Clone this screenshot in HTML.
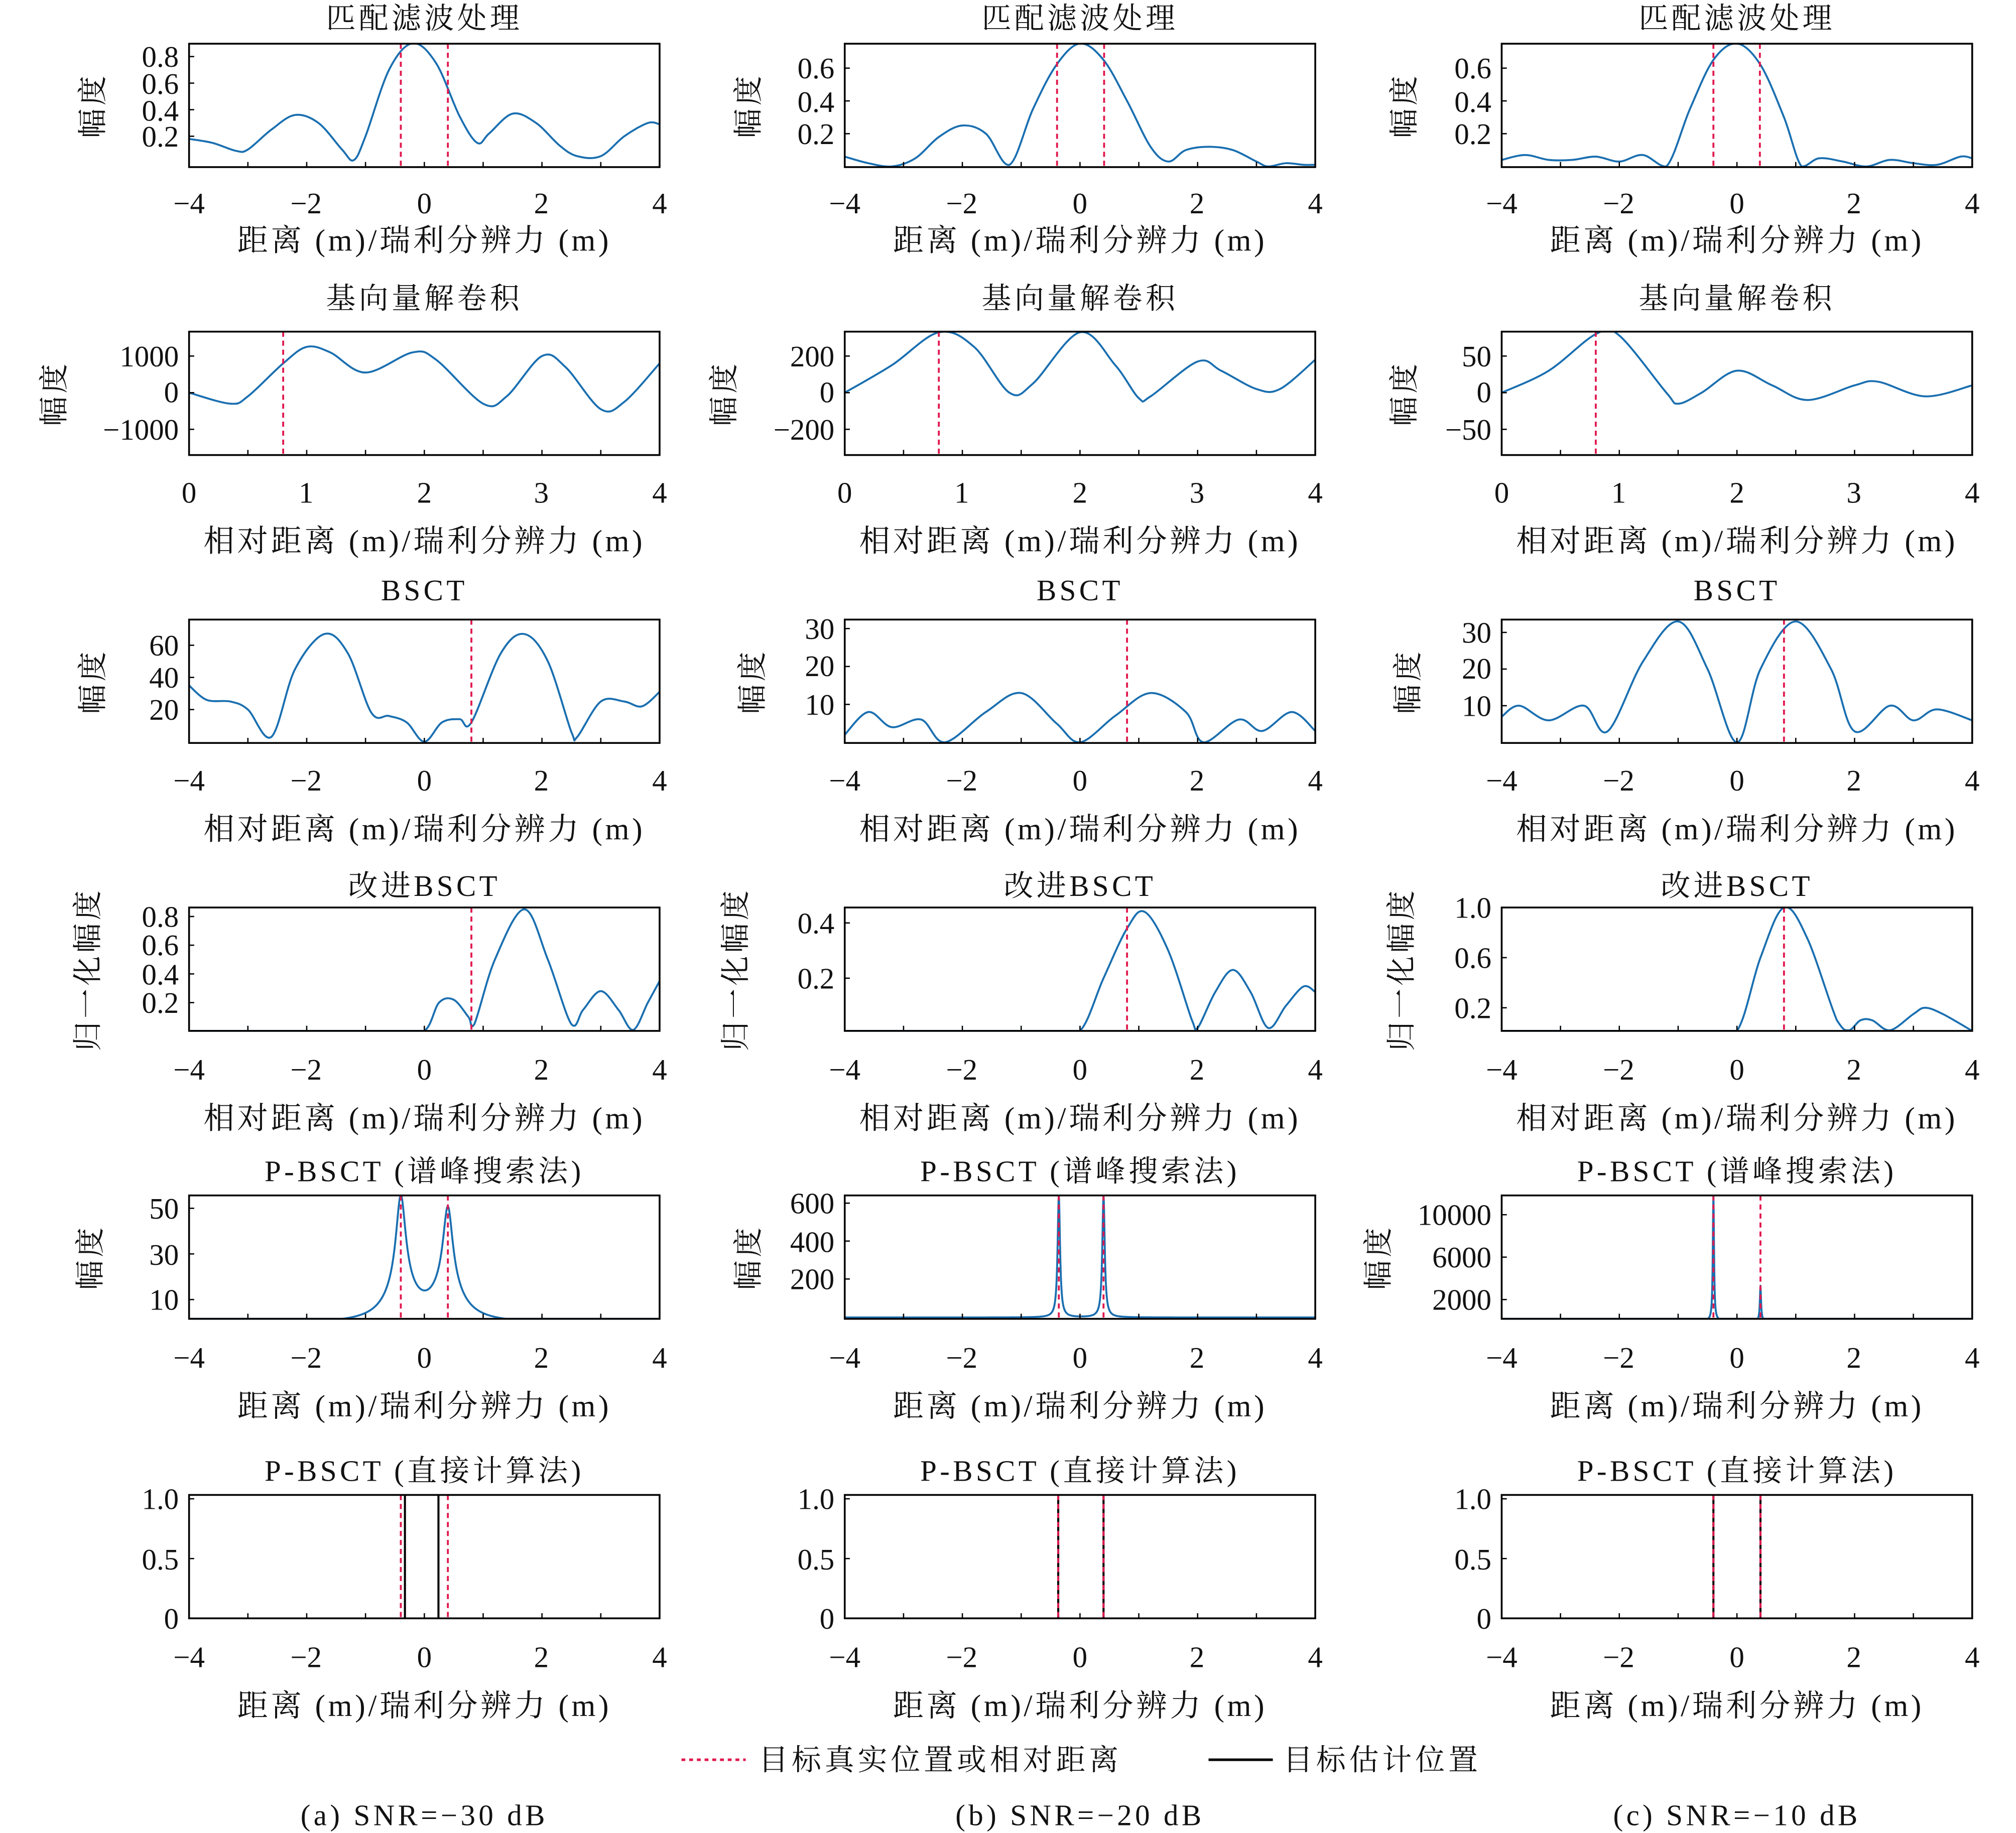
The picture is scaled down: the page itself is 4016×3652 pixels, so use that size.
<!DOCTYPE html>
<html><head><meta charset="utf-8"><style>
html,body{margin:0;padding:0;background:#fff}
svg{display:block}
text{font-family:"Liberation Serif","Noto Serif CJK SC","Noto Sans CJK SC",serif;font-size:23px;fill:#111;letter-spacing:2.5px}
.t{text-anchor:middle}
.r{text-anchor:end}
.n text{letter-spacing:0}
.xl{font-size:24px;letter-spacing:2.2px}
</style></head><body>
<svg id="s" xmlns="http://www.w3.org/2000/svg" width="4016" height="3652" viewBox="0 0 1568 1426">
<rect width="1568" height="1426" fill="#fff"/>
<g id="plots"></g>
<!-- titles -->
<g class="t">
<text class="t" x="330" y="22">匹配滤波处理</text><text class="t" x="840" y="22">匹配滤波处理</text><text class="t" x="1351" y="22">匹配滤波处理</text>
<text class="t" x="330" y="240">基向量解卷积</text><text class="t" x="840" y="240">基向量解卷积</text><text class="t" x="1351" y="240">基向量解卷积</text>
<text class="t" x="330" y="467">BSCT</text><text class="t" x="840" y="467">BSCT</text><text class="t" x="1351" y="467">BSCT</text>
<text class="t" x="330" y="697">改进BSCT</text><text class="t" x="840" y="697">改进BSCT</text><text class="t" x="1351" y="697">改进BSCT</text>
<text class="t" x="330" y="919">P-BSCT (谱峰搜索法)</text><text class="t" x="840" y="919">P-BSCT (谱峰搜索法)</text><text class="t" x="1351" y="919">P-BSCT (谱峰搜索法)</text>
<text class="t" x="330" y="1152">P-BSCT (直接计算法)</text><text class="t" x="840" y="1152">P-BSCT (直接计算法)</text><text class="t" x="1351" y="1152">P-BSCT (直接计算法)</text>
</g>
<!-- x labels -->
<g class="xl">
<text class="t xl" x="330" y="195">距离 (m)/瑞利分辨力 (m)</text><text class="t xl" x="840" y="195">距离 (m)/瑞利分辨力 (m)</text><text class="t xl" x="1351" y="195">距离 (m)/瑞利分辨力 (m)</text>
<text class="t xl" x="330" y="429">相对距离 (m)/瑞利分辨力 (m)</text><text class="t xl" x="840" y="429">相对距离 (m)/瑞利分辨力 (m)</text><text class="t xl" x="1351" y="429">相对距离 (m)/瑞利分辨力 (m)</text>
<text class="t xl" x="330" y="653">相对距离 (m)/瑞利分辨力 (m)</text><text class="t xl" x="840" y="653">相对距离 (m)/瑞利分辨力 (m)</text><text class="t xl" x="1351" y="653">相对距离 (m)/瑞利分辨力 (m)</text>
<text class="t xl" x="330" y="878">相对距离 (m)/瑞利分辨力 (m)</text><text class="t xl" x="840" y="878">相对距离 (m)/瑞利分辨力 (m)</text><text class="t xl" x="1351" y="878">相对距离 (m)/瑞利分辨力 (m)</text>
<text class="t xl" x="330" y="1102">距离 (m)/瑞利分辨力 (m)</text><text class="t xl" x="840" y="1102">距离 (m)/瑞利分辨力 (m)</text><text class="t xl" x="1351" y="1102">距离 (m)/瑞利分辨力 (m)</text>
<text class="t xl" x="330" y="1335">距离 (m)/瑞利分辨力 (m)</text><text class="t xl" x="840" y="1335">距离 (m)/瑞利分辨力 (m)</text><text class="t xl" x="1351" y="1335">距离 (m)/瑞利分辨力 (m)</text>
</g>
<!-- y labels -->
<text class="t" transform="translate(80,82) rotate(-90)">幅度</text>
<text class="t" transform="translate(590,82) rotate(-90)">幅度</text>
<text class="t" transform="translate(1100,82) rotate(-90)">幅度</text>
<text class="t" transform="translate(50,306) rotate(-90)">幅度</text>
<text class="t" transform="translate(571,306) rotate(-90)">幅度</text>
<text class="t" transform="translate(1100,306) rotate(-90)">幅度</text>
<text class="t" transform="translate(80,530) rotate(-90)">幅度</text>
<text class="t" transform="translate(593,530) rotate(-90)">幅度</text>
<text class="t" transform="translate(1103,530) rotate(-90)">幅度</text>
<text class="t" transform="translate(76,754) rotate(-90)">归一化幅度</text>
<text class="t" transform="translate(580,754) rotate(-90)">归一化幅度</text>
<text class="t" transform="translate(1098,754) rotate(-90)">归一化幅度</text>
<text class="t" transform="translate(78,978) rotate(-90)">幅度</text>
<text class="t" transform="translate(590,978) rotate(-90)">幅度</text>
<text class="t" transform="translate(1080,978) rotate(-90)">幅度</text>
<!-- y tick labels -->
<g class="n">
<text class="r" x="139" y="52">0.8</text><text class="r" x="139" y="73">0.6</text><text class="r" x="139" y="94">0.4</text><text class="r" x="139" y="114">0.2</text>
<text class="r" x="649" y="61">0.6</text><text class="r" x="649" y="87">0.4</text><text class="r" x="649" y="112">0.2</text>
<text class="r" x="1160" y="61">0.6</text><text class="r" x="1160" y="87">0.4</text><text class="r" x="1160" y="112">0.2</text>
<text class="r" x="139" y="285">1000</text><text class="r" x="139" y="313">0</text><text class="r" x="139" y="342">−1000</text>
<text class="r" x="649" y="285">200</text><text class="r" x="649" y="313">0</text><text class="r" x="649" y="342">−200</text>
<text class="r" x="1160" y="285">50</text><text class="r" x="1160" y="313">0</text><text class="r" x="1160" y="342">−50</text>
<text class="r" x="139" y="510">60</text><text class="r" x="139" y="535">40</text><text class="r" x="139" y="560">20</text>
<text class="r" x="649" y="497">30</text><text class="r" x="649" y="526">20</text><text class="r" x="649" y="556">10</text>
<text class="r" x="1160" y="500">30</text><text class="r" x="1160" y="528">20</text><text class="r" x="1160" y="557">10</text>
<text class="r" x="139" y="721">0.8</text><text class="r" x="139" y="743">0.6</text><text class="r" x="139" y="766">0.4</text><text class="r" x="139" y="788">0.2</text>
<text class="r" x="649" y="726">0.4</text><text class="r" x="649" y="769">0.2</text>
<text class="r" x="1160" y="714">1.0</text><text class="r" x="1160" y="753">0.6</text><text class="r" x="1160" y="792">0.2</text>
<text class="r" x="139" y="948">50</text><text class="r" x="139" y="984">30</text><text class="r" x="139" y="1019">10</text>
<text class="r" x="649" y="944">600</text><text class="r" x="649" y="974">400</text><text class="r" x="649" y="1003">200</text>
<text class="r" x="1160" y="953">10000</text><text class="r" x="1160" y="986">6000</text><text class="r" x="1160" y="1019">2000</text>
<text class="r" x="139" y="1174">1.0</text><text class="r" x="139" y="1221">0.5</text><text class="r" x="139" y="1267">0</text>
<text class="r" x="649" y="1174">1.0</text><text class="r" x="649" y="1221">0.5</text><text class="r" x="649" y="1267">0</text>
<text class="r" x="1160" y="1174">1.0</text><text class="r" x="1160" y="1221">0.5</text><text class="r" x="1160" y="1267">0</text>
</g>
<!-- x tick labels -->
<g class="n">
<text class="t" x="147" y="166">−4</text><text class="t" x="238" y="166">−2</text><text class="t" x="330" y="166">0</text><text class="t" x="421" y="166">2</text><text class="t" x="513" y="166">4</text>
<text class="t" x="657" y="166">−4</text><text class="t" x="748" y="166">−2</text><text class="t" x="840" y="166">0</text><text class="t" x="931" y="166">2</text><text class="t" x="1023" y="166">4</text>
<text class="t" x="1168" y="166">−4</text><text class="t" x="1259" y="166">−2</text><text class="t" x="1351" y="166">0</text><text class="t" x="1442" y="166">2</text><text class="t" x="1534" y="166">4</text>
<text class="t" x="147" y="391">0</text><text class="t" x="238" y="391">1</text><text class="t" x="330" y="391">2</text><text class="t" x="421" y="391">3</text><text class="t" x="513" y="391">4</text>
<text class="t" x="657" y="391">0</text><text class="t" x="748" y="391">1</text><text class="t" x="840" y="391">2</text><text class="t" x="931" y="391">3</text><text class="t" x="1023" y="391">4</text>
<text class="t" x="1168" y="391">0</text><text class="t" x="1259" y="391">1</text><text class="t" x="1351" y="391">2</text><text class="t" x="1442" y="391">3</text><text class="t" x="1534" y="391">4</text>
<text class="t" x="147" y="615">−4</text><text class="t" x="238" y="615">−2</text><text class="t" x="330" y="615">0</text><text class="t" x="421" y="615">2</text><text class="t" x="513" y="615">4</text>
<text class="t" x="657" y="615">−4</text><text class="t" x="748" y="615">−2</text><text class="t" x="840" y="615">0</text><text class="t" x="931" y="615">2</text><text class="t" x="1023" y="615">4</text>
<text class="t" x="1168" y="615">−4</text><text class="t" x="1259" y="615">−2</text><text class="t" x="1351" y="615">0</text><text class="t" x="1442" y="615">2</text><text class="t" x="1534" y="615">4</text>
<text class="t" x="147" y="840">−4</text><text class="t" x="238" y="840">−2</text><text class="t" x="330" y="840">0</text><text class="t" x="421" y="840">2</text><text class="t" x="513" y="840">4</text>
<text class="t" x="657" y="840">−4</text><text class="t" x="748" y="840">−2</text><text class="t" x="840" y="840">0</text><text class="t" x="931" y="840">2</text><text class="t" x="1023" y="840">4</text>
<text class="t" x="1168" y="840">−4</text><text class="t" x="1259" y="840">−2</text><text class="t" x="1351" y="840">0</text><text class="t" x="1442" y="840">2</text><text class="t" x="1534" y="840">4</text>
<text class="t" x="147" y="1064">−4</text><text class="t" x="238" y="1064">−2</text><text class="t" x="330" y="1064">0</text><text class="t" x="421" y="1064">2</text><text class="t" x="513" y="1064">4</text>
<text class="t" x="657" y="1064">−4</text><text class="t" x="748" y="1064">−2</text><text class="t" x="840" y="1064">0</text><text class="t" x="931" y="1064">2</text><text class="t" x="1023" y="1064">4</text>
<text class="t" x="1168" y="1064">−4</text><text class="t" x="1259" y="1064">−2</text><text class="t" x="1351" y="1064">0</text><text class="t" x="1442" y="1064">2</text><text class="t" x="1534" y="1064">4</text>
<text class="t" x="147" y="1297">−4</text><text class="t" x="238" y="1297">−2</text><text class="t" x="330" y="1297">0</text><text class="t" x="421" y="1297">2</text><text class="t" x="513" y="1297">4</text>
<text class="t" x="657" y="1297">−4</text><text class="t" x="748" y="1297">−2</text><text class="t" x="840" y="1297">0</text><text class="t" x="931" y="1297">2</text><text class="t" x="1023" y="1297">4</text>
<text class="t" x="1168" y="1297">−4</text><text class="t" x="1259" y="1297">−2</text><text class="t" x="1351" y="1297">0</text><text class="t" x="1442" y="1297">2</text><text class="t" x="1534" y="1297">4</text>
</g>
<!-- legend -->
<line x1="530" y1="1369" x2="580" y2="1369" stroke="#e0194f" stroke-width="2" stroke-dasharray="3,3"/>
<text x="590" y="1377" style="letter-spacing:2.7px">目标真实位置或相对距离</text>
<line x1="940" y1="1369" x2="990" y2="1369" stroke="#000" stroke-width="2"/>
<text x="998" y="1377" style="letter-spacing:2.7px">目标估计位置</text>
<text class="t" x="330" y="1420">(a) SNR=−30 dB</text>
<text class="t" x="840" y="1420">(b) SNR=−20 dB</text>
<text class="t" x="1351" y="1420">(c)  SNR=−10 dB</text>
</svg>
<script>
(function(){
var NS="http://www.w3.org/2000/svg",G=document.getElementById("plots");
var X0=[147,657,1168],Y0=[34,258,482,706,930,1163],W=366,H=96;
var RED="#e0194f",BLUE="#1a6fb0";
function el(t,a,p){var e=document.createElementNS(NS,t);for(var k in a)e.setAttribute(k,a[k]);(p||G).appendChild(e);return e;}
function lor(x,c,A,w){var d=(x-c)/w;return A/(1+d*d);}
var P=[
{c:0,r:0,x:[-4,4],yt:[[0.8,44],[0.2,106]],ticks:[0.8,0.6,0.4,0.2],red:[-0.4,0.4],
 pts:[[-4,0.18],[-3.6,0.15],[-3.2,0.09],[-3,0.1],[-2.6,0.25],[-2.2,0.36],[-1.8,0.3],[-1.4,0.1],[-1.2,0.02],[-1,0.2],[-0.6,0.7],[-0.2,0.9],[0.2,0.75],[0.6,0.35],[0.9,0.15],[1.1,0.22],[1.5,0.37],[1.9,0.3],[2.3,0.13],[2.6,0.05],[3,0.05],[3.4,0.2],[3.8,0.3],[4,0.29]]},
{c:1,r:0,x:[-4,4],yt:[[0.6,53],[0.2,104]],ticks:[0.6,0.4,0.2],red:[-0.39,0.41],
 pts:[[-4,0.06],[-3.6,0.02],[-3.2,0],[-2.8,0.05],[-2.4,0.18],[-2,0.25],[-1.6,0.2],[-1.2,0.01],[-0.8,0.35],[-0.4,0.62],[0,0.75],[0.4,0.65],[0.8,0.4],[1.2,0.12],[1.5,0.03],[1.8,0.1],[2.2,0.12],[2.6,0.1],[3,0.03],[3.2,0],[3.5,0.02],[3.8,0.01],[4,0.01]]},
{c:2,r:0,x:[-4,4],yt:[[0.6,53],[0.2,104]],ticks:[0.6,0.4,0.2],red:[-0.4,0.39],
 pts:[[-4,0.04],[-3.6,0.07],[-3.2,0.04],[-2.8,0.04],[-2.4,0.06],[-2,0.03],[-1.6,0.07],[-1.2,0],[-0.8,0.35],[-0.4,0.65],[0,0.75],[0.4,0.62],[0.8,0.3],[1.1,0],[1.4,0.05],[1.8,0.03],[2.2,0],[2.6,0.04],[3,0.02],[3.4,0.01],[3.8,0.06],[4,0.05]]},
{c:0,r:1,x:[0,4],yt:[[1000,277],[-1000,334]],ticks:[1000,0,-1000],red:[0.8],
 pts:[[0,0],[0.35,-300],[0.5,-100],[0.8,800],[1,1250],[1.2,1100],[1.5,550],[1.9,1100],[2.1,900],[2.5,-300],[2.7,-100],[3,1000],[3.2,700],[3.5,-450],[3.7,-250],[4,800]]},
{c:1,r:1,x:[0,4],yt:[[200,277],[-200,334]],ticks:[200,0,-200],red:[0.8],
 pts:[[0,0],[0.4,150],[0.8,330],[1.1,250],[1.4,0],[1.6,50],[2,330],[2.3,150],[2.5,-30],[2.6,-20],[3,170],[3.2,120],[3.5,20],[3.7,20],[4,180]]},
{c:2,r:1,x:[0,4],yt:[[50,277],[-50,334]],ticks:[50,0,-50],red:[0.8],
 pts:[[0,0],[0.4,30],[0.8,80],[1,78],[1.4,0],[1.5,-15],[1.7,0],[2,30],[2.3,10],[2.6,-10],[3,10],[3.2,15],[3.6,-5],[4,10]]},
{c:0,r:2,x:[-4,4],yt:[[60,502],[20,552]],ticks:[60,40,20],red:[0.8],
 pts:[[-4,35],[-3.7,26],[-3.3,25],[-3,20],[-2.6,3],[-2.2,45],[-1.7,67],[-1.3,55],[-0.9,18],[-0.6,16],[-0.3,12],[0,0],[0.3,12],[0.6,14],[0.8,12],[1.3,55],[1.7,67],[2.1,50],[2.5,6],[2.6,3],[3,25],[3.4,25],[3.7,22],[4,31]]},
{c:1,r:2,x:[-4,4],yt:[[30,489],[10,548]],ticks:[30,20,10],red:[0.8],
 pts:[[-4,2],[-3.6,8],[-3.2,4],[-2.7,6],[-2.3,0],[-1.6,8],[-1,13],[-0.4,5],[0,0],[0.6,7],[1.2,13],[1.8,8],[2.1,0],[2.7,6],[3.1,3],[3.6,8],[4,3]]},
{c:2,r:2,x:[-4,4],yt:[[30,492],[10,549]],ticks:[30,20,10],red:[0.8],
 pts:[[-4,7],[-3.7,10],[-3.2,6],[-2.6,10],[-2.2,3],[-1.6,22],[-1,33],[-0.5,20],[0,0],[0.4,20],[1,33],[1.6,20],[2,3],[2.6,10],[3,6],[3.4,9],[4,6]]},
{c:0,r:3,x:[-4,4],yt:[[0.8,713],[0.2,780]],ticks:[0.8,0.6,0.4,0.2],red:[0.8],
 pts:[[-4,0],[-2,0],[-0.5,0],[0,0],[0.25,0.2],[0.5,0.22],[0.75,0.1],[0.85,0.05],[1.2,0.5],[1.7,0.85],[2.1,0.5],[2.5,0.05],[2.7,0.15],[3,0.28],[3.3,0.15],[3.55,0.01],[3.8,0.2],[4,0.35]]},
{c:1,r:3,x:[-4,4],yt:[[0.4,718],[0.2,761]],ticks:[0.4,0.2],red:[0.8],
 pts:[[-4,0],[-2,0],[-0.5,0],[0,0],[0.4,0.2],[0.8,0.38],[1.1,0.44],[1.5,0.3],[1.9,0.05],[2,0.02],[2.3,0.15],[2.6,0.23],[2.9,0.15],[3.2,0.02],[3.5,0.1],[3.8,0.17],[4,0.15]]},
{c:2,r:3,x:[-4,4],yt:[[1.0,706],[0.2,784]],ticks:[1.0,0.6,0.2],red:[0.8],
 pts:[[-4,0],[-2,0],[-0.5,0],[0,0],[0.4,0.6],[0.8,1.0],[1.2,0.75],[1.7,0.1],[1.9,0.02],[2.1,0.1],[2.3,0.1],[2.6,0.02],[3,0.15],[3.2,0.2],[3.5,0.15],[4,0]]},
{c:0,r:4,x:[-4,4],yt:[[50,940],[10,1011]],ticks:[50,30,10],red:[-0.4,0.4],
 f:function(x){return lor(x,-0.4,40,0.1)+lor(x,0.4,35,0.1)+lor(x,-0.4,14,0.3)+lor(x,0.4,14,0.3)-0.5;}},
{c:1,r:4,x:[-4,4],yt:[[600,936],[200,995]],ticks:[600,400,200],red:[-0.36,0.4],
 f:function(x){return lor(x,-0.36,640,0.025)+lor(x,0.4,640,0.025)-3;}},
{c:2,r:4,x:[-4,4],yt:[[10000,945],[2000,1011]],ticks:[10000,6000,2000],red:[-0.4,0.4],
 f:function(x){return lor(x,-0.4,12000,0.012)+lor(x,0.4,3300,0.012);}},
{c:0,r:5,x:[-4,4],yt:[[1,1166],[0,1259]],ticks:[1,0.5,0],red:[-0.4,0.4],black:[-0.33,0.24]},
{c:1,r:5,x:[-4,4],yt:[[1,1166],[0,1259]],ticks:[1,0.5,0],red:[-0.37,0.4],black:[-0.37,0.4]},
{c:2,r:5,x:[-4,4],yt:[[1,1166],[0,1259]],ticks:[1,0.5,0],red:[-0.4,0.4],black:[-0.4,0.4]}
];
P.forEach(function(p,i){
 var x0=X0[p.c],y0=Y0[p.r];
 function mx(x){return x0+(x-p.x[0])/(p.x[1]-p.x[0])*W;}
 var a=p.yt[0],b=p.yt[1];
 function my(v){return a[1]+(v-a[0])*(b[1]-a[1])/(b[0]-a[0]);}
 var cp=el("clipPath",{id:"c"+i});el("rect",{x:x0,y:y0,width:W,height:H},cp);
 var g=el("g",{"clip-path":"url(#c"+i+")"});
 var d="";
 if(p.f){
  for(var k=0;k<=1600;k++){var x=p.x[0]+k/1600*(p.x[1]-p.x[0]);var y=Math.max(Math.min(my(p.f(x)),y0+H),y0-2);d+=(k?"L":"M")+mx(x).toFixed(2)+","+y.toFixed(2);}
 } else if(p.pts){
  var q=p.pts.map(function(t){return [mx(t[0]),Math.min(my(t[1]),y0+H)];});
  d="M"+q[0][0]+","+q[0][1];
  for(var k=0;k<q.length-1;k++){
   var p0=q[Math.max(k-1,0)],p1=q[k],p2=q[k+1],p3=q[Math.min(k+2,q.length-1)];
   var c1x=p1[0]+(p2[0]-p0[0])/6,c1y=p1[1]+(p2[1]-p0[1])/6,c2x=p2[0]-(p3[0]-p1[0])/6,c2y=p2[1]-(p3[1]-p1[1])/6;
   c1y=Math.min(c1y,y0+H);c2y=Math.min(c2y,y0+H);
   d+="C"+c1x.toFixed(2)+","+c1y.toFixed(2)+" "+c2x.toFixed(2)+","+c2y.toFixed(2)+" "+p2[0].toFixed(2)+","+p2[1].toFixed(2);
  }
 }
 if(p.black)p.black.forEach(function(x){el("line",{x1:mx(x),x2:mx(x),y1:y0,y2:y0+H,stroke:"#000","stroke-width":1.6},g);});
 if(d)el("path",{d:d,fill:"none",stroke:BLUE,"stroke-width":1.5,"stroke-linejoin":"round"},g);
 p.red.forEach(function(x){el("line",{x1:mx(x),x2:mx(x),y1:y0,y2:y0+H,stroke:RED,"stroke-width":1.5,"stroke-dasharray":"4,3"},g);});
 var step=(p.x[1]-p.x[0])>4?1:0.5;
 for(var x=p.x[0];x<=p.x[1]+1e-9;x+=step)el("line",{x1:mx(x),x2:mx(x),y1:y0+H,y2:y0+H-4,stroke:"#000","stroke-width":1});
 p.ticks.forEach(function(v){var y=my(v);el("line",{x1:x0,x2:x0+4,y1:y,y2:y,stroke:"#000","stroke-width":1});});
 el("rect",{x:x0,y:y0,width:W,height:H,fill:"none",stroke:"#000","stroke-width":1.4});
});
})();
</script>
</body></html>
